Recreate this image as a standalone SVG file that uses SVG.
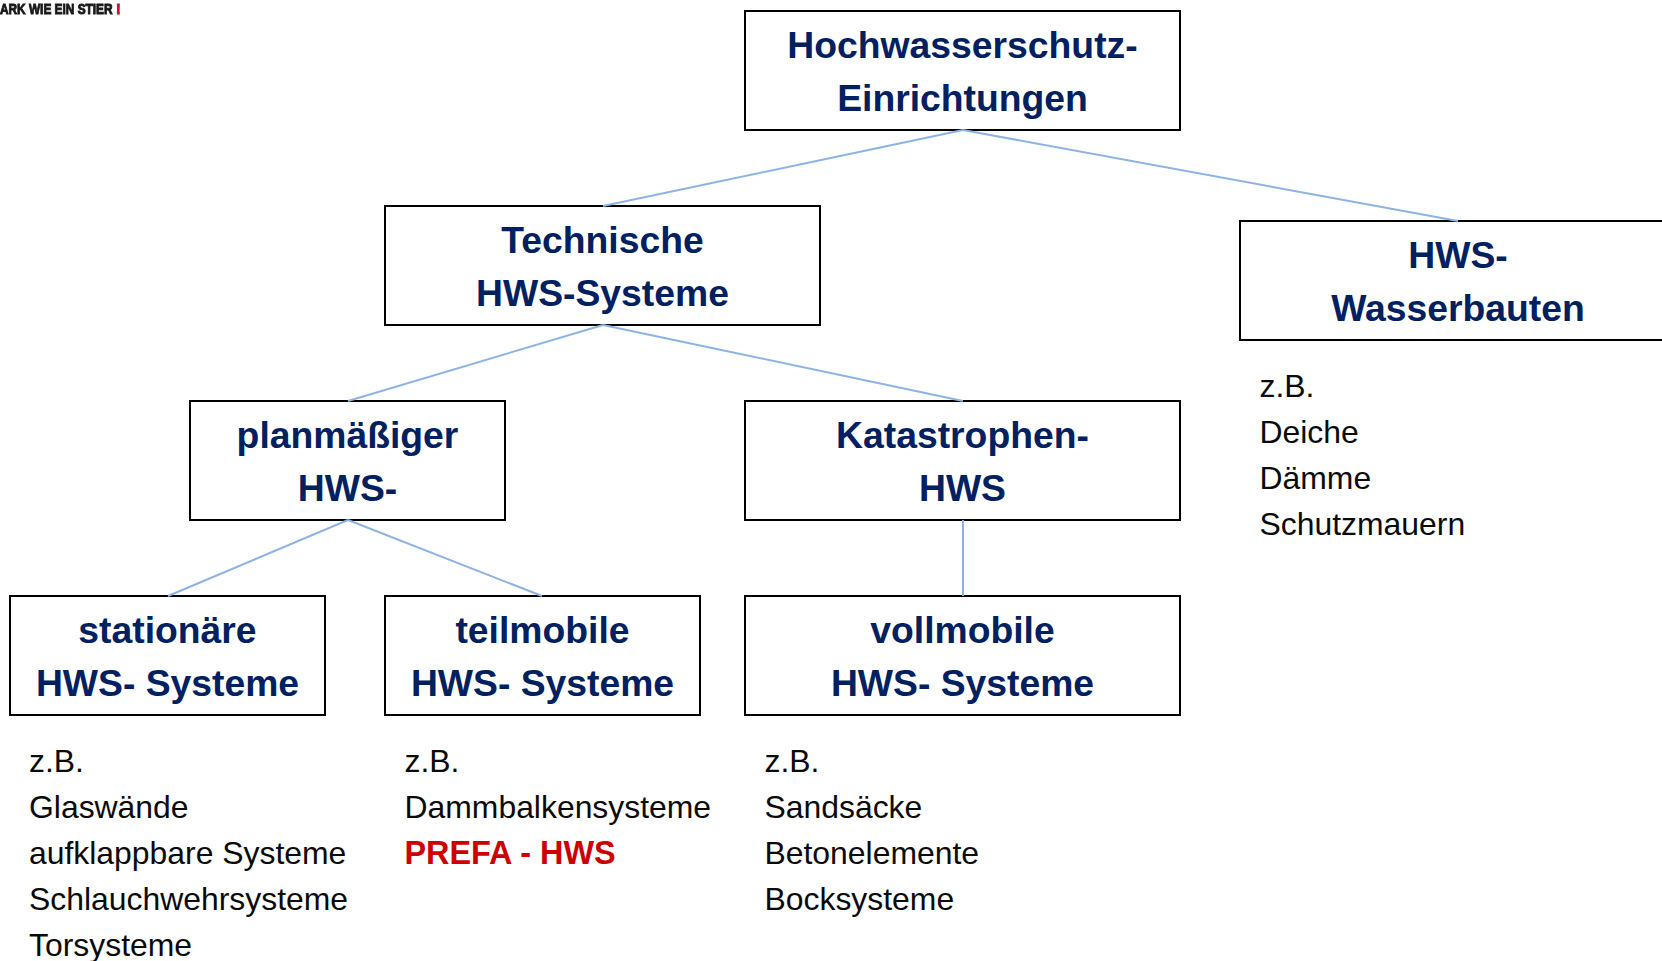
<svg xmlns="http://www.w3.org/2000/svg" width="1662" height="961" viewBox="0 0 1662 961">
<style>
.box{fill:#fff;stroke:#000;stroke-width:2}
.t{font-family:"Liberation Sans",Arial,sans-serif;font-weight:700;font-size:37.3px;fill:#002060;text-anchor:middle}
.n{font-family:"Liberation Sans",Arial,sans-serif;font-size:31.9px;fill:#0a0a0a}
.r{font-weight:700;font-size:32.4px;fill:#cc0000}
.logo{font-family:"Liberation Sans",Arial,sans-serif;font-weight:700;font-size:15.5px;stroke-width:1}
#connectors line{stroke:#8db3e2;stroke-width:2}
</style>
<defs><filter id="soft" x="-5%" y="-20%" width="110%" height="140%"><feGaussianBlur stdDeviation="0.6"/></filter></defs>
<rect width="1662" height="961" fill="#fff"/>
<g id="logo" filter="url(#soft)">
<text class="logo" transform="translate(0 13.5) scale(0.765 1)" fill="#1a1a1a" stroke="#1a1a1a">ARK WIE EIN STIER</text>
<text class="logo" transform="translate(116 13.5) scale(0.9 1)" fill="#c8102e" stroke="#c8102e">!</text>
</g>
<g id="node-hochwasserschutz"><rect class="box" x="745" y="11" width="435" height="119"/><text class="t" x="962.5" y="58">Hochwasserschutz-</text><text class="t" x="962.5" y="111">Einrichtungen</text></g>
<g id="node-technische"><rect class="box" x="385" y="206" width="435" height="119"/><text class="t" x="602.5" y="253">Technische</text><text class="t" x="602.5" y="306">HWS-Systeme</text></g>
<g id="node-wasserbauten"><rect class="box" x="1240" y="221" width="440" height="119"/><text class="t" x="1458" y="268">HWS-</text><text class="t" x="1458" y="321">Wasserbauten</text></g>
<g id="node-planmaessig"><rect class="box" x="190" y="401" width="315" height="119"/><text class="t" x="347.5" y="448">planmäßiger</text><text class="t" x="347.5" y="501">HWS-</text></g>
<g id="node-katastrophen"><rect class="box" x="745" y="401" width="435" height="119"/><text class="t" x="962.5" y="448">Katastrophen-</text><text class="t" x="962.5" y="501">HWS</text></g>
<g id="node-stationaer"><rect class="box" x="10" y="596" width="315" height="119"/><text class="t" x="167.5" y="643">stationäre</text><text class="t" x="167.5" y="696">HWS- Systeme</text></g>
<g id="node-teilmobil"><rect class="box" x="385" y="596" width="315" height="119"/><text class="t" x="542.5" y="643">teilmobile</text><text class="t" x="542.5" y="696">HWS- Systeme</text></g>
<g id="node-vollmobil"><rect class="box" x="745" y="596" width="435" height="119"/><text class="t" x="962.5" y="643">vollmobile</text><text class="t" x="962.5" y="696">HWS- Systeme</text></g>
<g id="notes-wasserbauten"><text class="n" x="1259.5" y="397">z.B.</text><text class="n" x="1259.5" y="443">Deiche</text><text class="n" x="1259.5" y="489">Dämme</text><text class="n" x="1259.5" y="535">Schutzmauern</text></g>
<g id="notes-stationaer"><text class="n" x="29" y="772">z.B.</text><text class="n" x="29" y="818">Glaswände</text><text class="n" x="29" y="864">aufklappbare Systeme</text><text class="n" x="29" y="910">Schlauchwehrsysteme</text><text class="n" x="29" y="956">Torsysteme</text></g>
<g id="notes-teilmobil"><text class="n" x="404.5" y="772">z.B.</text><text class="n" x="404.5" y="818">Dammbalkensysteme</text><text class="n r" x="404.5" y="864">PREFA - HWS</text></g>
<g id="notes-vollmobil"><text class="n" x="764.5" y="772">z.B.</text><text class="n" x="764.5" y="818">Sandsäcke</text><text class="n" x="764.5" y="864">Betonelemente</text><text class="n" x="764.5" y="910">Bocksysteme</text></g>
<g id="connectors">
<line x1="963" y1="130" x2="603" y2="206"/>
<line x1="963" y1="130" x2="1458" y2="221"/>
<line x1="603" y1="325" x2="348" y2="401"/>
<line x1="603" y1="325" x2="963" y2="401"/>
<line x1="348" y1="520" x2="168" y2="596"/>
<line x1="348" y1="520" x2="542" y2="596"/>
<line x1="963" y1="520" x2="963" y2="596"/>
</g>
</svg>
